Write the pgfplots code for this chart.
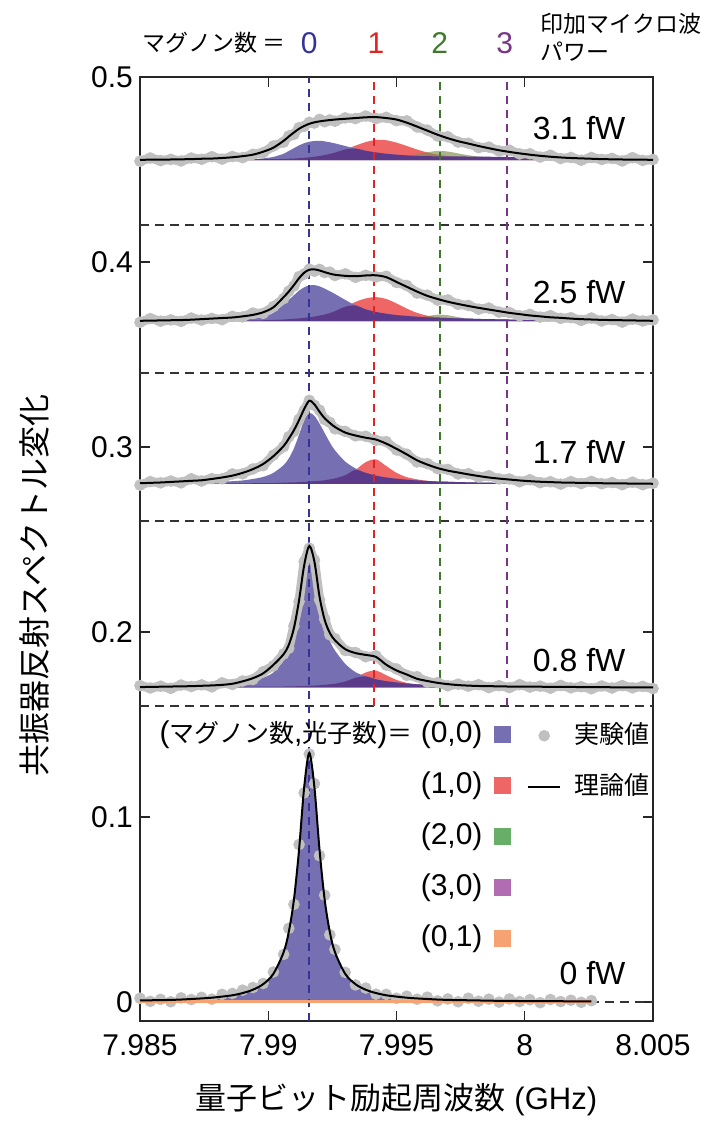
\documentclass[border=0pt]{standalone}
\usepackage{fontspec}
\setmainfont{Liberation Sans}
\newfontfamily\jp{Noto Sans CJK JP}
\usepackage{pgfplots}
\usepackage{pgfplotstable}
\pgfplotsset{compat=1.18}

\definecolor{cb}{RGB}{118,112,178}
\definecolor{cr}{RGB}{238,102,102}
\definecolor{cg}{RGB}{104,174,104}
\definecolor{cp}{RGB}{178,108,178}
\definecolor{co}{RGB}{246,162,114}
\definecolor{cv}{RGB}{92,58,138}
\definecolor{colive}{RGB}{128,138,72}
\definecolor{dotg}{RGB}{192,192,192}
\definecolor{lineblue}{RGB}{52,52,150}
\definecolor{linered}{RGB}{225,35,35}
\definecolor{linegreen}{RGB}{62,122,42}
\definecolor{linepurple}{RGB}{122,52,136}

% 0 fW (baseline 0)
\pgfplotstableread{
x k d b
7.9850 .0008 .0020 0
7.9854 .0009 .0003 .0009
7.9858 .0010 .0014 .0010
7.9862 .0011 .0001 .0011
7.9866 .0013 .0022 .0013
7.9870 .0016 .0013 .0016
7.9874 .0019 .0025 .0019
7.9878 .0023 .0015 .0023
7.9882 .0029 .0041 .0029
7.9886 .0036 .0046 .0036
7.9890 .0048 .0064 .0048
7.9894 .0066 .0078 .0066
7.9898 .0096 .0100 .0096
7.9902 .0152 .0162 .0152
7.9906 .0269 .0257 .0269
7.9908 .0378 .0398 .0378
7.9910 .0552 .0527 .0552
7.9912 .0821 .0851 .0821
7.9914 .1160 .1130 .1160
7.9916 .1346 .1340 .1346
7.9918 .1160 .1180 .1160
7.9920 .0821 .0791 .0821
7.9922 .0552 .0577 .0552
7.9924 .0378 .0363 .0378
7.9926 .0269 .0284 .0269
7.9930 .0152 .0160 .0152
7.9934 .0096 .0092 .0096
7.9938 .0066 .0075 .0066
7.9942 .0048 .0042 .0048
7.9946 .0036 .0041 .0036
7.9950 .0029 .0020 .0029
7.9954 .0023 .0031 .0023
7.9958 .0019 .0015 .0019
7.9962 .0016 .0026 .0016
7.9966 .0013 .0006 .0013
7.9970 .0011 .0016 .0011
7.9974 .0010 .0001 .0010
7.9978 .0009 .0020 .0009
7.9982 .0008 .0004 .0008
7.9986 .0007 .0015 .0007
7.9990 .0006 -.0001 .0006
7.9994 .0006 .0016 .0006
7.9998 .0005 .0002 .0005
8.0002 .0005 .0012 .0005
8.0006 .0004 -.0004 .0004
8.0010 .0004 .0013 .0004
8.0014 .0004 .0002 .0004
8.0018 .0003 .0009 .0003
8.0022 .0003 -.0002 .0003
8.0026 .0003 .0007 0
}\tzero

% 0.8 fW (baseline 0.17)
\pgfplotstableread{
x k d b r v
7.9850 .0002 .0010 0 0 0
7.9854 .0003 -.0003 .0002 .0001 .0002
7.9858 .0004 .0007 .0003 .0001 .0002
7.9862 .0005 -.0005 .0004 .0001 .0003
7.9866 .0006 .0013 .0005 .0001 .0003
7.9870 .0007 .0005 .0006 .0001 .0003
7.9874 .0009 .0014 .0008 .0001 .0004
7.9878 .0011 .0003 .0010 .0002 .0004
7.9882 .0014 .0025 .0013 .0002 .0004
7.9886 .0020 .0016 .0017 .0002 .0005
7.9890 .0033 .0035 .0026 .0003 .0005
7.9894 .0050 .0043 .0035 .0003 .0005
7.9898 .0076 .0085 .0052 .0004 .0005
7.9902 .0122 .0117 .0081 .0004 .0005
7.9906 .0180 .0181 .0144 .0005 .0005
7.9908 .0230 .0212 .0202 .0005 .0006
7.9910 .0320 .0332 .0295 .0006 .0006
7.9912 .0470 .0464 .0439 .0007 .0007
7.9914 .0660 .0680 .0621 .0007 .0007
7.9916 .0765 .0753 .0720 .0009 .0009
7.9918 .0680 .0688 .0640 .0010 .0010
7.9920 .0490 .0474 .0450 .0012 .0012
7.9922 .0365 .0369 .0320 .0014 .0014
7.9924 .0295 .0285 .0250 .0017 .0017
7.9926 .0255 .0264 .0200 .0020 .0020
7.9930 .0207 .0200 .0128 .0032 .0032
7.9934 .0186 .0189 .0083 .0052 .0052
7.9938 .0176 .0166 .0060 .0081 .0060
7.9942 .0165 .0171 .0044 .0091 .0044
7.9946 .0123 .0121 .0034 .0066 .0034
7.9950 .0092 .0100 .0027 .0041 .0027
7.9954 .0070 .0066 .0021 .0025 .0021
7.9958 .0047 .0058 .0017 .0017 .0017
7.9962 .0035 .0029 .0014 .0012 .0014
7.9966 .0025 .0026 .0012 .0009 .0012
7.9970 .0018 .0009 .0010 .0007 .0010
7.9974 .0013 .0018 .0009 .0005 .0009
7.9978 .0010 .0007 .0007 .0004 .0007
7.9982 .0008 .0015 .0006 .0003 .0006
7.9986 .0007 -.0001 .0005 .0003 .0005
7.9990 .0006 .0010 .0005 .0002 .0005
7.9994 .0005 -.0001 .0004 .0002 .0004
7.9998 .0005 .0015 .0004 .0002 .0004
8.0002 .0004 .0002 .0003 .0002 .0003
8.0006 .0004 .0007 .0003 .0001 .0003
8.0010 .0003 -.0004 .0003 .0001 .0003
8.0014 .0003 .0011 .0002 .0001 .0002
8.0018 .0003 -.0002 .0002 .0001 .0002
8.0022 .0002 .0004 .0002 .0001 .0002
8.0026 .0002 -.0007 .0002 .0001 .0002
8.0030 .0002 .0008 .0001 .0001 .0001
8.0034 .0001 -.0003 .0001 0 .0001
8.0038 .0001 .0010 .0001 0 .0001
8.0042 .0001 -.0002 .0001 0 .0001
8.0046 .0001 .0006 .0001 0 .0001
8.0050 .0001 -.0006 0 0 0
}\tone

% 1.7 fW (baseline 0.28)
\pgfplotstableread{
x k d b r v
7.9850 .0004 -.0006 0 0 0
7.9854 .0006 .0013 .0004 .0001 .0001
7.9858 .0008 .0006 .0004 .0001 .0001
7.9862 .0011 .0016 .0005 .0001 .0001
7.9866 .0014 .0006 .0006 .0002 .0002
7.9870 .0017 .0028 .0006 .0002 .0002
7.9874 .0020 .0016 .0008 .0002 .0002
7.9878 .0027 .0029 .0009 .0002 .0002
7.9882 .0035 .0028 .0012 .0002 .0002
7.9886 .0045 .0054 .0015 .0003 .0003
7.9890 .0060 .0055 .0019 .0003 .0003
7.9894 .0080 .0081 .0027 .0004 .0004
7.9898 .0108 .0099 .0038 .0005 .0005
7.9902 .0150 .0156 .0060 .0005 .0005
7.9906 .0205 .0202 .0102 .0007 .0007
7.9908 .0245 .0255 .0138 .0008 .0008
7.9910 .0290 .0284 .0192 .0008 .0008
7.9912 .0345 .0349 .0266 .0010 .0010
7.9914 .0405 .0397 .0346 .0011 .0011
7.9916 .0450 .0452 .0384 .0013 .0013
7.9918 .0430 .0425 .0368 .0015 .0015
7.9920 .0390 .0399 .0326 .0017 .0017
7.9922 .0355 .0348 .0275 .0020 .0020
7.9924 .0330 .0333 .0225 .0025 .0025
7.9926 .0308 .0298 .0182 .0030 .0030
7.9930 .0278 .0284 .0121 .0047 .0047
7.9934 .0262 .0260 .0084 .0076 .0076
7.9938 .0250 .0258 .0060 .0118 .0060
7.9942 .0240 .0236 .0045 .0133 .0045
7.9946 .0218 .0229 .0035 .0097 .0035
7.9950 .0190 .0184 .0028 .0060 .0028
7.9954 .0160 .0161 .0023 .0037 .0023
7.9958 .0128 .0119 .0019 .0025 .0019
7.9962 .0105 .0110 .0016 .0017 .0016
7.9966 .0086 .0083 .0013 .0013 .0013
7.9970 .0072 .0079 .0012 .0010 .0012
7.9974 .0062 .0054 .0010 .0008 .0010
7.9978 .0052 .0056 .0009 .0006 .0009
7.9982 .0043 .0037 .0008 .0005 .0008
7.9986 .0035 .0045 .0007 .0004 .0007
7.9990 .0029 .0027 .0006 .0004 .0006
7.9994 .0024 .0027 .0006 .0003 .0006
7.9998 .0019 .0012 .0005 .0003 .0005
8.0002 .0015 .0023 .0005 .0002 .0005
8.0006 .0012 .0007 .0004 .0002 .0004
8.0010 .0010 .0012 .0004 .0002 .0004
8.0014 .0008 -.0001 .0004 .0002 .0004
8.0018 .0007 .0013 .0003 .0002 .0003
8.0022 .0006 .0002 .0003 .0001 .0003
8.0026 .0005 .0014 .0003 .0001 .0003
8.0030 .0004 .0001 .0003 .0001 .0003
8.0034 .0003 .0008 .0002 .0001 .0002
8.0038 .0003 -.0004 .0002 .0001 .0002
8.0042 .0002 .0010 .0002 .0001 .0002
8.0046 .0002 -.0004 .0002 .0001 .0002
8.0050 .0001 .0004 0 0 0
}\ttwo

% 2.5 fW (baseline 0.368)
\pgfplotstableread{
x k d b r g v
7.9850 .0002 -.0006 0 0 0 0
7.9854 .0003 .0014 .0001 .0001 .0001 .0001
7.9858 .0004 .0000 .0001 .0001 .0001 .0001
7.9862 .0005 .0007 .0001 .0001 .0001 .0001
7.9866 .0006 -.0001 .0002 .0001 .0001 .0001
7.9870 .0008 .0017 .0002 .0001 .0001 .0001
7.9874 .0011 .0006 .0002 .0002 .0001 .0002
7.9878 .0014 .0015 .0003 .0002 .0001 .0002
7.9882 .0017 .0008 .0004 .0002 .0001 .0002
7.9886 .0020 .0026 .0005 .0003 .0001 .0003
7.9890 .0026 .0023 .0008 .0003 .0001 .0003
7.9894 .0034 .0044 .0013 .0004 .0001 .0004
7.9898 .0048 .0042 .0022 .0005 .0001 .0005
7.9902 .0075 .0079 .0045 .0007 .0001 .0007
7.9906 .0130 .0122 .0090 .0009 .0001 .0009
7.9908 .0160 .0162 .0115 .0011 .0001 .0011
7.9910 .0195 .0190 .0140 .0013 .0001 .0013
7.9912 .0232 .0241 .0165 .0015 .0001 .0015
7.9914 .0262 .0255 .0183 .0018 .0001 .0018
7.9916 .0278 .0281 .0193 .0021 .0001 .0021
7.9918 .0280 .0270 .0195 .0025 .0001 .0025
7.9920 .0274 .0280 .0188 .0030 .0001 .0030
7.9922 .0265 .0263 .0176 .0036 .0001 .0036
7.9924 .0257 .0265 .0162 .0044 .0001 .0044
7.9926 .0251 .0247 .0147 .0054 .0001 .0054
7.9930 .0245 .0256 .0115 .0078 .0002 .0078
7.9934 .0243 .0237 .0085 .0104 .0002 .0085
7.9938 .0247 .0248 .0064 .0123 .0003 .0064
7.9942 .0248 .0239 .0050 .0130 .0004 .0050
7.9946 .0238 .0243 .0040 .0120 .0005 .0040
7.9950 .0212 .0209 .0033 .0096 .0008 .0033
7.9954 .0186 .0193 .0028 .0068 .0011 .0028
7.9958 .0160 .0152 .0024 .0045 .0018 .0024
7.9962 .0137 .0141 .0021 .0030 .0027 .0021
7.9966 .0120 .0114 .0019 .0021 .0035 .0019
7.9970 .0105 .0115 .0017 .0015 .0032 .0017
7.9974 .0093 .0091 .0015 .0011 .0022 .0015
7.9978 .0082 .0085 .0014 .0008 .0014 .0014
7.9982 .0072 .0065 .0012 .0006 .0009 .0012
7.9986 .0063 .0071 .0011 .0005 .0006 .0011
7.9990 .0054 .0049 .0010 .0004 .0005 .0010
7.9994 .0045 .0047 .0009 .0003 .0004 .0009
7.9998 .0038 .0029 .0008 .0003 .0003 .0008
8.0002 .0031 .0037 .0007 .0002 .0002 .0007
8.0006 .0026 .0022 .0006 .0002 .0002 .0006
8.0010 .0021 .0030 .0005 .0002 .0002 .0005
8.0014 .0018 .0015 .0005 .0001 .0001 .0005
8.0018 .0014 .0019 .0004 .0001 .0001 .0004
8.0022 .0011 .0004 .0004 .0001 .0001 .0004
8.0026 .0009 .0017 .0003 .0001 .0001 .0003
8.0030 .0007 .0001 .0003 .0001 .0001 .0003
8.0034 .0006 .0009 .0002 .0001 .0001 .0002
8.0038 .0005 -.0005 .0002 .0001 .0001 .0002
8.0042 .0004 .0011 .0002 .0001 .0001 .0002
8.0046 .0003 .0001 .0001 .0001 .0001 .0001
8.0050 .0002 .0007 0 0 0 0
}\tthree

% 3.1 fW (baseline 0.455)
\pgfplotstableread{
x k d b r g v
7.9850 .0002 -.0005 0 0 0 0
7.9854 .0003 .0012 .0001 .0001 .0001 .0001
7.9858 .0003 -.0002 .0001 .0001 .0001 .0001
7.9862 .0004 .0005 .0001 .0001 .0001 .0001
7.9866 .0005 -.0004 .0001 .0001 .0001 .0001
7.9870 .0006 .0012 .0001 .0001 .0001 .0001
7.9874 .0008 .0005 .0002 .0001 .0001 .0002
7.9878 .0009 .0019 .0002 .0002 .0001 .0002
7.9882 .0012 .0006 .0002 .0002 .0001 .0002
7.9886 .0016 .0020 .0003 .0002 .0002 .0003
7.9890 .0022 .0014 .0004 .0003 .0002 .0004
7.9894 .0030 .0032 .0006 .0003 .0002 .0006
7.9898 .0046 .0041 .0010 .0004 .0002 .0006
7.9902 .0068 .0077 .0018 .0005 .0002 .0006
7.9906 .0105 .0098 .0035 .0007 .0002 .0007
7.9908 .0128 .0131 .0050 .0008 .0002 .0008
7.9910 .0150 .0140 .0065 .0009 .0002 .0009
7.9912 .0170 .0176 .0080 .0011 .0002 .0011
7.9914 .0185 .0183 .0092 .0013 .0002 .0013
7.9916 .0197 .0205 .0100 .0016 .0003 .0016
7.9918 .0205 .0201 .0104 .0019 .0003 .0019
7.9920 .0210 .0221 .0105 .0023 .0003 .0023
7.9922 .0214 .0208 .0102 .0028 .0003 .0028
7.9924 .0217 .0218 .0097 .0034 .0004 .0034
7.9926 .0220 .0211 .0091 .0041 .0004 .0041
7.9930 .0224 .0229 .0077 .0058 .0005 .0058
7.9934 .0228 .0225 .0063 .0079 .0006 .0063
7.9938 .0232 .0239 .0051 .0098 .0007 .0051
7.9942 .0233 .0225 .0042 .0110 .0009 .0042
7.9946 .0228 .0232 .0035 .0108 .0012 .0035
7.9950 .0220 .0214 .0030 .0095 .0017 .0030
7.9954 .0203 .0213 .0026 .0077 .0023 .0026
7.9958 .0182 .0180 .0023 .0058 .0032 .0023
7.9962 .0160 .0163 .0021 .0042 .0043 .0022
7.9966 .0138 .0131 .0019 .0030 .0050 .0021
7.9970 .0119 .0127 .0017 .0022 .0047 .0021
7.9974 .0103 .0098 .0016 .0016 .0037 .0021
7.9978 .0090 .0092 .0015 .0012 .0027 .0020
7.9982 .0077 .0068 .0014 .0009 .0020 .0020
7.9986 .0065 .0071 .0013 .0007 .0014 .0019
7.9990 .0054 .0050 .0012 .0005 .0011 .0018
7.9994 .0045 .0054 .0011 .0004 .0008 .0017
7.9998 .0037 .0034 .0010 .0003 .0007 .0015
8.0002 .0030 .0035 .0009 .0003 .0005 .0013
8.0006 .0024 .0017 .0008 .0002 .0004 .0011
8.0010 .0019 .0027 .0007 .0002 .0004 .0009
8.0014 .0015 .0009 .0006 .0001 .0003 .0008
8.0018 .0012 .0015 .0005 .0001 .0003 .0006
8.0022 .0010 .0000 .0004 .0001 .0002 .0005
8.0026 .0008 .0015 .0004 .0001 .0002 .0004
8.0030 .0006 .0004 .0003 .0001 .0002 .0003
8.0034 .0005 .0010 .0003 .0001 .0002 .0003
8.0038 .0004 -.0004 .0002 .0001 .0001 .0002
8.0042 .0003 .0014 .0002 .0001 .0001 .0002
8.0046 .0003 -.0001 .0001 .0001 .0001 .0001
8.0050 .0002 .0004 0 0 0 0
}\tfour

\pgfplotsset{
  pf/.style={draw=none, forget plot, smooth},
  hd/.style={black!80, line width=0.7pt, dash pattern=on 4.5pt off 3pt, forget plot},
  vd/.style={line width=0.9pt, dash pattern=on 4pt off 3pt, forget plot},
  dots/.style={only marks, color=dotg, mark=*, mark size=2.7pt, mark options={draw=none, fill=dotg}, forget plot},
  band/.style={color=dotg, line width=4.6pt, line join=round, forget plot},
  theo/.style={black, line width=1pt, smooth, forget plot},
}

\begin{document}
\begin{tikzpicture}
\useasboundingbox (-70pt,-50.5pt) rectangle (280.5pt,510.5pt);
\begin{axis}[
  at={(0pt,0pt)}, anchor=south west,
  width=256.5pt, height=472pt, scale only axis,
  xmin=7.985, xmax=8.005, ymin=-0.0103, ymax=0.5,
  clip=false, clip marker paths=true,
  xtick={7.985,7.99,7.995,8,8.005},
  xticklabels={7.985,7.99,7.995,8,8.005},
  ytick={0,0.1,0.2,0.3,0.4,0.5},
  yticklabels={0,0.1,0.2,0.3,0.4,0.5},
  tick align=inside, major tick length=5pt,
  tick style={black!85, line width=0.6pt},
  axis line style={black!85, line width=0.7pt},
  ticklabel style={font=\fontsize{15}{18}\selectfont},
  xticklabel shift=3pt,
  /pgf/number format/assume math mode=true,
  legend style={at={(axis cs:7.99949,0.1519)}, anchor=north east, draw=none, fill=none,
    inner sep=0pt, row sep=12pt, font=\fontsize{15}{18}\selectfont,
    nodes={inner sep=0pt, text height=10.5pt, text depth=3pt},
    /tikz/every odd column/.append style={column sep=6pt}},
  legend plot pos=right, legend cell align=right,
]
% separators
\addplot[hd] coordinates {(7.985,0.42) (8.005,0.42)};
\addplot[hd] coordinates {(7.985,0.34) (8.005,0.34)};
\addplot[hd] coordinates {(7.985,0.26) (8.005,0.26)};
\addplot[hd] coordinates {(7.985,0.16) (8.005,0.16)};
\addplot[hd] coordinates {(7.985,0) (8.005,0)};

% 3.1 fW
\addplot[pf, fill=cr] table[x=x, y expr=\thisrow{r}+0.455] {\tfour} -- cycle;
\addplot[pf, fill=colive, fill opacity=0.65] table[x=x, y expr=\thisrow{g}+0.455] {\tfour} -- cycle;
\addplot[pf, fill=cb] table[x=x, y expr=\thisrow{b}+0.455] {\tfour} -- cycle;
\addplot[pf, fill=cv] table[x=x, y expr=\thisrow{v}+0.455] {\tfour} -- cycle;
% 2.5 fW
\addplot[pf, fill=cr] table[x=x, y expr=\thisrow{r}+0.368] {\tthree} -- cycle;
\addplot[pf, fill=colive, fill opacity=0.65] table[x=x, y expr=\thisrow{g}+0.368] {\tthree} -- cycle;
\addplot[pf, fill=cb] table[x=x, y expr=\thisrow{b}+0.368] {\tthree} -- cycle;
\addplot[pf, fill=cv] table[x=x, y expr=\thisrow{v}+0.368] {\tthree} -- cycle;
% 1.7 fW
\addplot[pf, fill=cr] table[x=x, y expr=\thisrow{r}+0.28] {\ttwo} -- cycle;
\addplot[pf, fill=cb] table[x=x, y expr=\thisrow{b}+0.28] {\ttwo} -- cycle;
\addplot[pf, fill=cv] table[x=x, y expr=\thisrow{v}+0.28] {\ttwo} -- cycle;
% 0.8 fW
\addplot[pf, fill=cr] table[x=x, y expr=\thisrow{r}+0.17] {\tone} -- cycle;
\addplot[pf, fill=cb] table[x=x, y expr=\thisrow{b}+0.17] {\tone} -- cycle;
\addplot[pf, fill=cv] table[x=x, y expr=\thisrow{v}+0.17] {\tone} -- cycle;
% 0 fW
\addplot[pf, fill=cb] table[x=x, y=b] {\tzero} -- cycle;

% vertical dashed lines
\addplot[vd, draw=lineblue] coordinates {(7.9916,-0.0103) (7.9916,0.5)};
\addplot[vd, draw=linered] coordinates {(7.99412,0.16) (7.99412,0.5)};
\addplot[vd, draw=linegreen] coordinates {(7.9967,0.16) (7.9967,0.5)};
\addplot[vd, draw=linepurple] coordinates {(7.9993,0.16) (7.9993,0.5)};

% experimental points (band of overlapping dots)
\addplot[band] table[x=x, y expr=\thisrow{d}+0.455] {\tfour};
\addplot[band] table[x=x, y expr=\thisrow{d}+0.368] {\tthree};
\addplot[band] table[x=x, y expr=\thisrow{d}+0.28] {\ttwo};
\addplot[band] table[x=x, y expr=\thisrow{d}+0.17] {\tone};
\addplot[dots] table[x=x, y expr=\thisrow{d}+0.455] {\tfour};
\addplot[dots] table[x=x, y expr=\thisrow{d}+0.368] {\tthree};
\addplot[dots] table[x=x, y expr=\thisrow{d}+0.28] {\ttwo};
\addplot[dots] table[x=x, y expr=\thisrow{d}+0.17] {\tone};
\addplot[dots] table[x=x, y=d] {\tzero};
\addplot[co, line width=1.3pt, forget plot] coordinates {(7.985,0.0004) (8.0026,0.0004)};

% theory
\addplot[theo] table[x=x, y expr=\thisrow{k}+0.455] {\tfour};
\addplot[theo] table[x=x, y expr=\thisrow{k}+0.368] {\tthree};
\addplot[theo] table[x=x, y expr=\thisrow{k}+0.28] {\ttwo};
\addplot[theo] table[x=x, y expr=\thisrow{k}+0.17] {\tone};
\addplot[theo] table[x=x, y=k] {\tzero};

% legend (components)
\addlegendimage{legend image code/.code={\fill[cb] (0pt,-4pt) rectangle (8pt,4pt);}}
\addlegendentry{({\jp\fontsize{12.5}{15}\selectfont マグノン数},{\jp\fontsize{12.5}{15}\selectfont 光子数}){\jp\fontsize{12.5}{15}\selectfont ＝} (0,0)}
\addlegendimage{legend image code/.code={\fill[cr] (0pt,-4pt) rectangle (8pt,4pt);}}
\addlegendentry{(1,0)}
\addlegendimage{legend image code/.code={\fill[cg] (0pt,-4pt) rectangle (8pt,4pt);}}
\addlegendentry{(2,0)}
\addlegendimage{legend image code/.code={\fill[cp] (0pt,-4pt) rectangle (8pt,4pt);}}
\addlegendentry{(3,0)}
\addlegendimage{legend image code/.code={\fill[co] (0pt,-4pt) rectangle (8pt,4pt);}}
\addlegendentry{(0,1)}

% panel labels
\node[anchor=east, font=\fontsize{16}{19}\selectfont] at (axis cs:8.0042,0.4724) {3.1 fW};
\node[anchor=east, font=\fontsize{16}{19}\selectfont] at (axis cs:8.0042,0.3838) {2.5 fW};
\node[anchor=east, font=\fontsize{16}{19}\selectfont] at (axis cs:8.0042,0.2973) {1.7 fW};
\node[anchor=east, font=\fontsize{16}{19}\selectfont] at (axis cs:8.0042,0.1849) {0.8 fW};
\node[anchor=east, font=\fontsize{16}{19}\selectfont] at (axis cs:8.0042,0.0157) {0 fW};

% top annotations
\node[anchor=east, font=\jp\fontsize{11.5}{14}\selectfont] at (axis cs:7.99094,0.5184) {マグノン数 ＝};
\node[font=\fontsize{15}{18}\selectfont, text=lineblue] at (axis cs:7.9916,0.5184) {0};
\node[font=\fontsize{15}{18}\selectfont, text=linered] at (axis cs:7.9942,0.5184) {1};
\node[font=\fontsize{15}{18}\selectfont, text=linegreen] at (axis cs:7.99668,0.5184) {2};
\node[font=\fontsize{15}{18}\selectfont, text=linepurple] at (axis cs:7.99922,0.5184) {3};
\node[anchor=west, font=\jp\fontsize{11.5}{14}\selectfont] at (axis cs:8.00035,0.5286) {印加マイクロ波};
\node[anchor=west, font=\jp\fontsize{11.5}{14}\selectfont] at (axis cs:8.00035,0.5135) {パワー};

% axis labels
\node[rotate=90, font=\jp\fontsize{16}{19}\selectfont] at (axis cs:7.98090,0.2249) {共振器反射スペクトル変化};
\node[font=\fontsize{15.5}{18}\selectfont] at (axis cs:7.995,-0.0530) {{\jp 量子ビット励起周波数} (GHz)};
\end{axis}

\begin{axis}[
  at={(0pt,0pt)}, anchor=south west,
  width=256.5pt, height=472pt, scale only axis,
  xmin=7.985, xmax=8.005, ymin=-0.0103, ymax=0.5,
  hide axis,
  legend style={at={(axis cs:8.00008,0.1514)}, anchor=north west, draw=none, fill=none,
    inner sep=0pt, row sep=12pt, font=\jp\fontsize{12.5}{15}\selectfont,
    nodes={inner sep=0pt, text height=10.5pt, text depth=3pt},
    /tikz/every odd column/.append style={column sep=6.5pt}},
  legend cell align=left,
]
\addplot[draw=none, forget plot] coordinates {(7.99,0.2)};
\addlegendimage{legend image code/.code={\fill[dotg] (8pt,0pt) circle (2.7pt); \path (0pt,0pt) (16pt,0pt);}}
\addlegendentry{実験値}
\addlegendimage{legend image code/.code={\draw[black, line width=1pt] (0pt,0pt) -- (16pt,0pt);}}
\addlegendentry{理論値}
\end{axis}
\end{tikzpicture}
\end{document}
